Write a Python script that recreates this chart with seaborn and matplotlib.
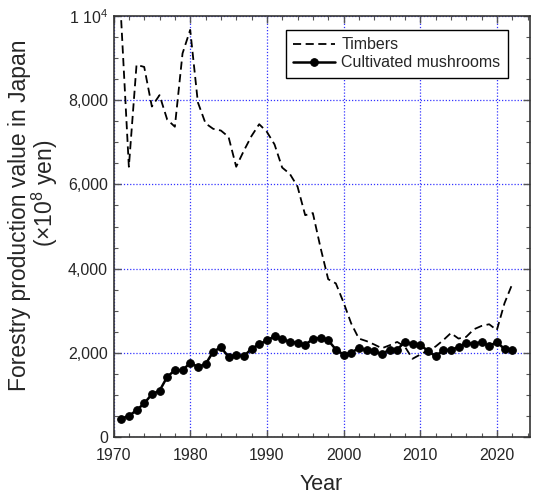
import numpy as np
import pandas as pd
import matplotlib
matplotlib.use("Agg")
import matplotlib.pyplot as plt
from matplotlib.ticker import MultipleLocator, FuncFormatter
import seaborn as sns

# Forestry production value in Japan (100 million yen)
years = list(range(1971, 2023))

timbers = [9900, 6420, 8840, 8790, 7850, 8120, 7540, 7370, 9110, 9670,
           7950, 7450, 7320, 7280, 7130, 6420, 6800, 7150, 7430, 7250,
           6950, 6400, 6250, 5950, 5270, 5320, 4500, 3750, 3650, 3200,
           2700, 2340, 2280, 2200, 2110, 2180, 2260, 2150, 1860, 1960,
           2060, 2150, 2300, 2470, 2340, 2380, 2560, 2640, 2680, 2540,
           3180, 3630]

mushrooms = [440, 500, 640, 800, 1020, 1100, 1430, 1590, 1590, 1760,
             1670, 1730, 2030, 2130, 1910, 1950, 1920, 2100, 2200, 2300,
             2390, 2330, 2260, 2240, 2190, 2330, 2360, 2300, 2080, 1960,
             2000, 2120, 2060, 2040, 1970, 2080, 2080, 2260, 2210, 2190,
             2050, 1920, 2060, 2080, 2130, 2240, 2210, 2260, 2160, 2260,
             2090, 2080]

series_names = ["Timbers", "Cultivated mushrooms"]

df = pd.DataFrame({"Year": years, "Timbers": timbers,
                   "Cultivated mushrooms": mushrooms})

sns.set_style("ticks")
plt.rcParams["font.family"] = ["Liberation Sans", "DejaVu Sans"]
plt.rcParams["mathtext.fontset"] = "custom"
plt.rcParams["mathtext.rm"] = "Liberation Sans"
plt.rcParams["mathtext.it"] = "Liberation Sans"

fig = plt.figure(figsize=(5.33, 4.99), dpi=100)
ax = fig.add_axes([0.213, 0.124, 0.781, 0.844])

sns.lineplot(data=df, x="Year", y="Timbers", ax=ax, color="black",
             linewidth=1.3, linestyle=(0, (4.5, 2.5)), label=series_names[0])
sns.lineplot(data=df, x="Year", y="Cultivated mushrooms", ax=ax,
             color="black", linewidth=1.8, marker="o", markersize=5.5,
             markeredgecolor="black", label=series_names[1])

ax.set_xlim(1970, 2024.3)
ax.set_ylim(0, 10000)
ax.xaxis.set_major_locator(MultipleLocator(10))
ax.xaxis.set_minor_locator(MultipleLocator(2))
ax.yaxis.set_major_locator(MultipleLocator(2000))
ax.yaxis.set_minor_locator(MultipleLocator(500))


def ylab(v, pos):
    if v >= 10000:
        return r"1 10$^{4}$"
    return f"{int(v):,}"


ax.yaxis.set_major_formatter(FuncFormatter(ylab))

ax.tick_params(which="both", direction="in", top=True, right=True,
               labelsize=11.5, color="#555555")
ax.tick_params(axis="x", which="both", pad=8)
ax.tick_params(axis="y", which="both", pad=4)
ax.tick_params(which="major", length=5, width=1)
ax.tick_params(which="minor", length=3, width=0.8)

ax.grid(True, which="major", color="#3333ff", linestyle=(0, (1, 1.5)),
        linewidth=0.9)
for s in ax.spines.values():
    s.set_color("#333333")
    s.set_linewidth(1.2)

ax.set_xlabel("Year", fontsize=15.5, labelpad=8)
ax.set_ylabel("")
# two-line vertical axis title
fig.text(0.036, 0.568, "Forestry production value in Japan", rotation=90,
         ha="center", va="center", fontsize=16.5)
fig.text(0.085, 0.612, "(×10$^{8}$ yen)", rotation=90,
         ha="center", va="center", fontsize=16.5)

leg = ax.legend(loc="upper right", bbox_to_anchor=(0.958, 0.978),
                fontsize=11.5, frameon=True, fancybox=False,
                borderpad=0.45, handlelength=2.6, labelspacing=0.2,
                handletextpad=0.4, borderaxespad=0.3)
leg.get_frame().set_edgecolor("black")
leg.get_frame().set_linewidth(1.0)
leg.get_frame().set_alpha(1)

fig.savefig("out.png", dpi=100)
